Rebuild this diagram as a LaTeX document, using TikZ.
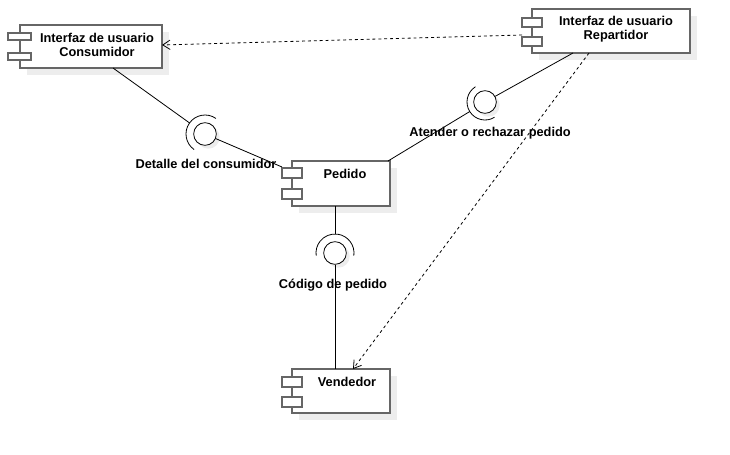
\documentclass[tikz,border=0pt]{standalone}
\usepackage{fontspec}
\setmainfont{Liberation Sans}
\usetikzlibrary{fit,shadows,arrows.meta}
\definecolor{boxgray}{HTML}{666666}
\tikzset{
  comp/.style={draw=boxgray, line width=0.9pt, fill=white, inner sep=0pt,
    drop shadow={shadow xshift=5pt, shadow yshift=-5pt, fill=black!7, opacity=1}},
  port/.style={draw=boxgray, line width=0.9pt, fill=white, inner sep=0pt},
  lbl/.style={font=\fontsize{9.6}{10.5}\selectfont\bfseries, align=center, inner sep=0pt},
  ball/.style={circle, draw=black, line width=0.6pt, fill=white, minimum size=17pt, inner sep=0pt,
    drop shadow={shadow xshift=2.5pt, shadow yshift=-2.5pt, fill=black!7, opacity=1}},
  conn/.style={draw=black, line width=0.6pt},
  dep/.style={draw=black, line width=0.6pt, dash pattern=on 2.2pt off 2.2pt,
    -{Straight Barb[length=5.5pt,width=7pt]}}
}
\begin{document}
\begin{tikzpicture}[x=0.75pt,y=-0.75pt]
\useasboundingbox[fill=white] (0,0) rectangle (730,454);

% components
\node[comp, fit={(20,25) (162,68)}] (cons) {};
\node[port, fit={(8,33) (31,40)}] (consp1) {};
\node[port, fit={(8,53) (31,60)}] (consp2) {};
\node[lbl] (consl) at (97,45) {Interfaz de usuario\\Consumidor};

\node[comp, fit={(532,9) (690,53)}] (rep) {};
\node[port, fit={(522,18) (542,27)}] (repp1) {};
\node[port, fit={(522,37) (542,46)}] (repp2) {};
\node[lbl] (repl) at (616,29) {Interfaz de usuario\\Repartidor};

\node[comp, fit={(292,161) (390,206)}] (ped) {};
\node[port, fit={(282,168) (302,178)}] (pedp1) {};
\node[port, fit={(282,189) (302,199)}] (pedp2) {};
\node[lbl] (pedl) at (345,174) {Pedido};

\node[comp, fit={(292,369) (390,413)}] (ven) {};
\node[port, fit={(282,377) (302,387)}] (venp1) {};
\node[port, fit={(282,397) (302,407)}] (venp2) {};
\node[lbl] (venl) at (347,382) {Vendedor};

% connection points
\coordinate (consB) at (113,68);
\coordinate (pedTL) at (282,167);
\coordinate (pedTR) at (388,161);
\coordinate (pedB) at (335,206);
\coordinate (repB) at (573,53);
\coordinate (repB2) at (589,53);
\coordinate (repL) at (522,35);
\coordinate (consR) at (162,45);
\coordinate (venT) at (335,369);
\coordinate (venT2) at (353,369);

% interface 1: Detalle del consumidor
\node[ball] (i1) at (205,134) {};
\draw[conn] (i1) -- (pedTL);
\coordinate (s1) at ([shift={(215.6:19)}]i1.center);
\draw[conn] (consB) -- (s1);
\draw[conn] ([shift={(-55:19)}]i1.center) arc[start angle=-55, end angle=-235, radius=19];
\node[lbl] (l1) at (206,164) {Detalle del consumidor};

% interface 2: Atender o rechazar pedido
\node[ball] (i2) at (485,102) {};
\draw[conn] (i2) -- (repB);
\coordinate (s2) at ([shift={(148:18)}]i2.center);
\draw[conn] (pedTR) -- (s2);
\draw[conn] ([shift={(58:18)}]i2.center) arc[start angle=58, end angle=238, radius=18];
\node[lbl] (l2) at (490,133) {Atender o rechazar pedido};

% interface 3: Codigo de pedido
\node[ball] (i3) at (335,253) {};
\draw[conn] (i3) -- (venT);
\coordinate (s3) at ([shift={(-90:19)}]i3.center);
\draw[conn] (pedB) -- (s3);
\draw[conn] ([shift={(8:19)}]i3.center) arc[start angle=8, end angle=-188, radius=19];
\node[lbl] (l3) at (333,285) {Código de pedido};

% dependencies
\draw[dep] (repL) -- (consR);
\draw[dep] (repB2) -- (venT2);
\end{tikzpicture}
\end{document}
